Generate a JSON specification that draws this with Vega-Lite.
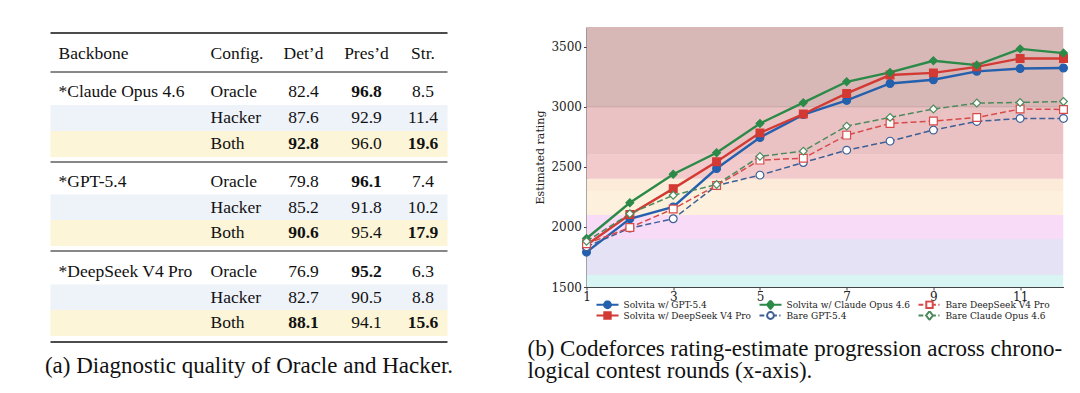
{
  "$schema": "https://vega.github.io/schema/vega-lite/v6.json",
  "background": "white",
  "padding": {"left": 44.5, "top": 27, "right": 0, "bottom": 0},
  "bounds": "flush",
  "spacing": 139,
  "config": {"view": {"stroke": null}},
  "datasets": {
    "tableLabels": [
      {"line": 0, "col": 0, "text": "Backbone"},
      {"line": 0, "col": 1, "text": "Config."},
      {"line": 0, "col": 2, "text": "Det’d"},
      {"line": 0, "col": 3, "text": "Pres’d"},
      {"line": 0, "col": 4, "text": "Str."},
      {"line": 1, "col": 0, "text": "*Claude Opus 4.6"},
      {"line": 4, "col": 0, "text": "*GPT-5.4"},
      {"line": 7, "col": 0, "text": "*DeepSeek V4 Pro"},
      {"line": 1, "col": 1, "text": "Oracle"},
      {"line": 2, "col": 1, "text": "Hacker"},
      {"line": 3, "col": 1, "text": "Both"},
      {"line": 4, "col": 1, "text": "Oracle"},
      {"line": 5, "col": 1, "text": "Hacker"},
      {"line": 6, "col": 1, "text": "Both"},
      {"line": 7, "col": 1, "text": "Oracle"},
      {"line": 8, "col": 1, "text": "Hacker"},
      {"line": 9, "col": 1, "text": "Both"}
    ],
    "tableValues": [
      {"backbone": "Claude Opus 4.6", "config": "Oracle", "line": 1, "metric": "Det’d", "col": 2, "value": 82.4},
      {"backbone": "Claude Opus 4.6", "config": "Oracle", "line": 1, "metric": "Pres’d", "col": 3, "value": 96.8},
      {"backbone": "Claude Opus 4.6", "config": "Oracle", "line": 1, "metric": "Str.", "col": 4, "value": 8.5},
      {"backbone": "Claude Opus 4.6", "config": "Hacker", "line": 2, "metric": "Det’d", "col": 2, "value": 87.6},
      {"backbone": "Claude Opus 4.6", "config": "Hacker", "line": 2, "metric": "Pres’d", "col": 3, "value": 92.9},
      {"backbone": "Claude Opus 4.6", "config": "Hacker", "line": 2, "metric": "Str.", "col": 4, "value": 11.4},
      {"backbone": "Claude Opus 4.6", "config": "Both", "line": 3, "metric": "Det’d", "col": 2, "value": 92.8},
      {"backbone": "Claude Opus 4.6", "config": "Both", "line": 3, "metric": "Pres’d", "col": 3, "value": 96.0},
      {"backbone": "Claude Opus 4.6", "config": "Both", "line": 3, "metric": "Str.", "col": 4, "value": 19.6},
      {"backbone": "GPT-5.4", "config": "Oracle", "line": 4, "metric": "Det’d", "col": 2, "value": 79.8},
      {"backbone": "GPT-5.4", "config": "Oracle", "line": 4, "metric": "Pres’d", "col": 3, "value": 96.1},
      {"backbone": "GPT-5.4", "config": "Oracle", "line": 4, "metric": "Str.", "col": 4, "value": 7.4},
      {"backbone": "GPT-5.4", "config": "Hacker", "line": 5, "metric": "Det’d", "col": 2, "value": 85.2},
      {"backbone": "GPT-5.4", "config": "Hacker", "line": 5, "metric": "Pres’d", "col": 3, "value": 91.8},
      {"backbone": "GPT-5.4", "config": "Hacker", "line": 5, "metric": "Str.", "col": 4, "value": 10.2},
      {"backbone": "GPT-5.4", "config": "Both", "line": 6, "metric": "Det’d", "col": 2, "value": 90.6},
      {"backbone": "GPT-5.4", "config": "Both", "line": 6, "metric": "Pres’d", "col": 3, "value": 95.4},
      {"backbone": "GPT-5.4", "config": "Both", "line": 6, "metric": "Str.", "col": 4, "value": 17.9},
      {"backbone": "DeepSeek V4 Pro", "config": "Oracle", "line": 7, "metric": "Det’d", "col": 2, "value": 76.9},
      {"backbone": "DeepSeek V4 Pro", "config": "Oracle", "line": 7, "metric": "Pres’d", "col": 3, "value": 95.2},
      {"backbone": "DeepSeek V4 Pro", "config": "Oracle", "line": 7, "metric": "Str.", "col": 4, "value": 6.3},
      {"backbone": "DeepSeek V4 Pro", "config": "Hacker", "line": 8, "metric": "Det’d", "col": 2, "value": 82.7},
      {"backbone": "DeepSeek V4 Pro", "config": "Hacker", "line": 8, "metric": "Pres’d", "col": 3, "value": 90.5},
      {"backbone": "DeepSeek V4 Pro", "config": "Hacker", "line": 8, "metric": "Str.", "col": 4, "value": 8.8},
      {"backbone": "DeepSeek V4 Pro", "config": "Both", "line": 9, "metric": "Det’d", "col": 2, "value": 88.1},
      {"backbone": "DeepSeek V4 Pro", "config": "Both", "line": 9, "metric": "Pres’d", "col": 3, "value": 94.1},
      {"backbone": "DeepSeek V4 Pro", "config": "Both", "line": 9, "metric": "Str.", "col": 4, "value": 15.6}
    ],
    "tableBands": [
      {"line": 2, "kind": "Hacker"}, {"line": 3, "kind": "Both"},
      {"line": 5, "kind": "Hacker"}, {"line": 6, "kind": "Both"},
      {"line": 8, "kind": "Hacker"}, {"line": 9, "kind": "Both"}
    ],
    "tableRules": [
      {"line": 0, "kind": "top"},
      {"line": 0, "kind": "mid"},
      {"line": 3, "kind": "mid"},
      {"line": 6, "kind": "mid"},
      {"line": 9, "kind": "bottom"}
    ],
    "tiers": [
      {"tier": "Specialist", "lo": 1500, "hi": 1600},
      {"tier": "Expert", "lo": 1600, "hi": 1900},
      {"tier": "Candidate Master", "lo": 1900, "hi": 2100},
      {"tier": "Master", "lo": 2100, "hi": 2300},
      {"tier": "International Master", "lo": 2300, "hi": 2400},
      {"tier": "Grandmaster", "lo": 2400, "hi": 2600},
      {"tier": "International Grandmaster", "lo": 2600, "hi": 3000},
      {"tier": "Legendary Grandmaster", "lo": 3000, "hi": 4000}
    ],
    "ratings": [
      {"series": "Solvita w/ GPT-5.4", "model": "GPT-5.4", "kind": "Solvita", "round": 1, "rating": 1790},
      {"series": "Solvita w/ GPT-5.4", "model": "GPT-5.4", "kind": "Solvita", "round": 2, "rating": 2068},
      {"series": "Solvita w/ GPT-5.4", "model": "GPT-5.4", "kind": "Solvita", "round": 3, "rating": 2167},
      {"series": "Solvita w/ GPT-5.4", "model": "GPT-5.4", "kind": "Solvita", "round": 4, "rating": 2486},
      {"series": "Solvita w/ GPT-5.4", "model": "GPT-5.4", "kind": "Solvita", "round": 5, "rating": 2744},
      {"series": "Solvita w/ GPT-5.4", "model": "GPT-5.4", "kind": "Solvita", "round": 6, "rating": 2935},
      {"series": "Solvita w/ GPT-5.4", "model": "GPT-5.4", "kind": "Solvita", "round": 7, "rating": 3053},
      {"series": "Solvita w/ GPT-5.4", "model": "GPT-5.4", "kind": "Solvita", "round": 8, "rating": 3194},
      {"series": "Solvita w/ GPT-5.4", "model": "GPT-5.4", "kind": "Solvita", "round": 9, "rating": 3225},
      {"series": "Solvita w/ GPT-5.4", "model": "GPT-5.4", "kind": "Solvita", "round": 10, "rating": 3295},
      {"series": "Solvita w/ GPT-5.4", "model": "GPT-5.4", "kind": "Solvita", "round": 11, "rating": 3318},
      {"series": "Solvita w/ GPT-5.4", "model": "GPT-5.4", "kind": "Solvita", "round": 12, "rating": 3323},
      {"series": "Solvita w/ DeepSeek V4 Pro", "model": "DeepSeek V4 Pro", "kind": "Solvita", "round": 1, "rating": 1850},
      {"series": "Solvita w/ DeepSeek V4 Pro", "model": "DeepSeek V4 Pro", "kind": "Solvita", "round": 2, "rating": 2103},
      {"series": "Solvita w/ DeepSeek V4 Pro", "model": "DeepSeek V4 Pro", "kind": "Solvita", "round": 3, "rating": 2319},
      {"series": "Solvita w/ DeepSeek V4 Pro", "model": "DeepSeek V4 Pro", "kind": "Solvita", "round": 4, "rating": 2542},
      {"series": "Solvita w/ DeepSeek V4 Pro", "model": "DeepSeek V4 Pro", "kind": "Solvita", "round": 5, "rating": 2783},
      {"series": "Solvita w/ DeepSeek V4 Pro", "model": "DeepSeek V4 Pro", "kind": "Solvita", "round": 6, "rating": 2940},
      {"series": "Solvita w/ DeepSeek V4 Pro", "model": "DeepSeek V4 Pro", "kind": "Solvita", "round": 7, "rating": 3111},
      {"series": "Solvita w/ DeepSeek V4 Pro", "model": "DeepSeek V4 Pro", "kind": "Solvita", "round": 8, "rating": 3264},
      {"series": "Solvita w/ DeepSeek V4 Pro", "model": "DeepSeek V4 Pro", "kind": "Solvita", "round": 9, "rating": 3282},
      {"series": "Solvita w/ DeepSeek V4 Pro", "model": "DeepSeek V4 Pro", "kind": "Solvita", "round": 10, "rating": 3332},
      {"series": "Solvita w/ DeepSeek V4 Pro", "model": "DeepSeek V4 Pro", "kind": "Solvita", "round": 11, "rating": 3402},
      {"series": "Solvita w/ DeepSeek V4 Pro", "model": "DeepSeek V4 Pro", "kind": "Solvita", "round": 12, "rating": 3402},
      {"series": "Solvita w/ Claude Opus 4.6", "model": "Claude Opus 4.6", "kind": "Solvita", "round": 1, "rating": 1904},
      {"series": "Solvita w/ Claude Opus 4.6", "model": "Claude Opus 4.6", "kind": "Solvita", "round": 2, "rating": 2201},
      {"series": "Solvita w/ Claude Opus 4.6", "model": "Claude Opus 4.6", "kind": "Solvita", "round": 3, "rating": 2439},
      {"series": "Solvita w/ Claude Opus 4.6", "model": "Claude Opus 4.6", "kind": "Solvita", "round": 4, "rating": 2617},
      {"series": "Solvita w/ Claude Opus 4.6", "model": "Claude Opus 4.6", "kind": "Solvita", "round": 5, "rating": 2861},
      {"series": "Solvita w/ Claude Opus 4.6", "model": "Claude Opus 4.6", "kind": "Solvita", "round": 6, "rating": 3034},
      {"series": "Solvita w/ Claude Opus 4.6", "model": "Claude Opus 4.6", "kind": "Solvita", "round": 7, "rating": 3208},
      {"series": "Solvita w/ Claude Opus 4.6", "model": "Claude Opus 4.6", "kind": "Solvita", "round": 8, "rating": 3286},
      {"series": "Solvita w/ Claude Opus 4.6", "model": "Claude Opus 4.6", "kind": "Solvita", "round": 9, "rating": 3383},
      {"series": "Solvita w/ Claude Opus 4.6", "model": "Claude Opus 4.6", "kind": "Solvita", "round": 10, "rating": 3347},
      {"series": "Solvita w/ Claude Opus 4.6", "model": "Claude Opus 4.6", "kind": "Solvita", "round": 11, "rating": 3482},
      {"series": "Solvita w/ Claude Opus 4.6", "model": "Claude Opus 4.6", "kind": "Solvita", "round": 12, "rating": 3447},
      {"series": "Bare GPT-5.4", "model": "GPT-5.4", "kind": "Bare", "round": 1, "rating": 1835},
      {"series": "Bare GPT-5.4", "model": "GPT-5.4", "kind": "Bare", "round": 2, "rating": 1990},
      {"series": "Bare GPT-5.4", "model": "GPT-5.4", "kind": "Bare", "round": 3, "rating": 2068},
      {"series": "Bare GPT-5.4", "model": "GPT-5.4", "kind": "Bare", "round": 4, "rating": 2345},
      {"series": "Bare GPT-5.4", "model": "GPT-5.4", "kind": "Bare", "round": 5, "rating": 2431},
      {"series": "Bare GPT-5.4", "model": "GPT-5.4", "kind": "Bare", "round": 6, "rating": 2536},
      {"series": "Bare GPT-5.4", "model": "GPT-5.4", "kind": "Bare", "round": 7, "rating": 2639},
      {"series": "Bare GPT-5.4", "model": "GPT-5.4", "kind": "Bare", "round": 8, "rating": 2714},
      {"series": "Bare GPT-5.4", "model": "GPT-5.4", "kind": "Bare", "round": 9, "rating": 2806},
      {"series": "Bare GPT-5.4", "model": "GPT-5.4", "kind": "Bare", "round": 10, "rating": 2878},
      {"series": "Bare GPT-5.4", "model": "GPT-5.4", "kind": "Bare", "round": 11, "rating": 2903},
      {"series": "Bare GPT-5.4", "model": "GPT-5.4", "kind": "Bare", "round": 12, "rating": 2903},
      {"series": "Bare DeepSeek V4 Pro", "model": "DeepSeek V4 Pro", "kind": "Bare", "round": 1, "rating": 1860},
      {"series": "Bare DeepSeek V4 Pro", "model": "DeepSeek V4 Pro", "kind": "Bare", "round": 2, "rating": 1995},
      {"series": "Bare DeepSeek V4 Pro", "model": "DeepSeek V4 Pro", "kind": "Bare", "round": 3, "rating": 2150},
      {"series": "Bare DeepSeek V4 Pro", "model": "DeepSeek V4 Pro", "kind": "Bare", "round": 4, "rating": 2345},
      {"series": "Bare DeepSeek V4 Pro", "model": "DeepSeek V4 Pro", "kind": "Bare", "round": 5, "rating": 2556},
      {"series": "Bare DeepSeek V4 Pro", "model": "DeepSeek V4 Pro", "kind": "Bare", "round": 6, "rating": 2572},
      {"series": "Bare DeepSeek V4 Pro", "model": "DeepSeek V4 Pro", "kind": "Bare", "round": 7, "rating": 2764},
      {"series": "Bare DeepSeek V4 Pro", "model": "DeepSeek V4 Pro", "kind": "Bare", "round": 8, "rating": 2861},
      {"series": "Bare DeepSeek V4 Pro", "model": "DeepSeek V4 Pro", "kind": "Bare", "round": 9, "rating": 2881},
      {"series": "Bare DeepSeek V4 Pro", "model": "DeepSeek V4 Pro", "kind": "Bare", "round": 10, "rating": 2911},
      {"series": "Bare DeepSeek V4 Pro", "model": "DeepSeek V4 Pro", "kind": "Bare", "round": 11, "rating": 2981},
      {"series": "Bare DeepSeek V4 Pro", "model": "DeepSeek V4 Pro", "kind": "Bare", "round": 12, "rating": 2978},
      {"series": "Bare Claude Opus 4.6", "model": "Claude Opus 4.6", "kind": "Bare", "round": 1, "rating": 1880},
      {"series": "Bare Claude Opus 4.6", "model": "Claude Opus 4.6", "kind": "Bare", "round": 2, "rating": 2110},
      {"series": "Bare Claude Opus 4.6", "model": "Claude Opus 4.6", "kind": "Bare", "round": 3, "rating": 2264},
      {"series": "Bare Claude Opus 4.6", "model": "Claude Opus 4.6", "kind": "Bare", "round": 4, "rating": 2353},
      {"series": "Bare Claude Opus 4.6", "model": "Claude Opus 4.6", "kind": "Bare", "round": 5, "rating": 2587},
      {"series": "Bare Claude Opus 4.6", "model": "Claude Opus 4.6", "kind": "Bare", "round": 6, "rating": 2631},
      {"series": "Bare Claude Opus 4.6", "model": "Claude Opus 4.6", "kind": "Bare", "round": 7, "rating": 2839},
      {"series": "Bare Claude Opus 4.6", "model": "Claude Opus 4.6", "kind": "Bare", "round": 8, "rating": 2912},
      {"series": "Bare Claude Opus 4.6", "model": "Claude Opus 4.6", "kind": "Bare", "round": 9, "rating": 2981},
      {"series": "Bare Claude Opus 4.6", "model": "Claude Opus 4.6", "kind": "Bare", "round": 10, "rating": 3031},
      {"series": "Bare Claude Opus 4.6", "model": "Claude Opus 4.6", "kind": "Bare", "round": 11, "rating": 3036},
      {"series": "Bare Claude Opus 4.6", "model": "Claude Opus 4.6", "kind": "Bare", "round": 12, "rating": 3044}
    ]
  },
  "hconcat": [
    {
      "width": 397,
      "height": 315,
      "title": {"text": "(a) Diagnostic quality of Oracle and Hacker.", "orient": "bottom", "anchor": "middle", "frame": "group", "offset": 12, "font": "Liberation Serif", "fontSize": 23, "fontWeight": "normal", "color": "#111111"},
      "layer": [
        {
          "data": {"name": "tableBands"},
          "mark": {"type": "rect", "height": 26},
          "encoding": {
            "y": {"field": "line", "type": "quantitative", "scale": {"domain": [0, 1, 3, 4, 6, 7, 9], "range": [27, 65, 117, 155, 206, 245, 296], "nice": false, "zero": false}, "axis": null},
            "fill": {"field": "kind", "type": "nominal", "scale": {"domain": ["Hacker", "Both"], "range": ["#eef2f9", "#fcf5d8"]}, "legend": null}
          }
        },
        {
          "data": {"name": "tableRules"},
          "transform": [{"filter": "datum.kind === 'top'"}],
          "mark": {"type": "rule", "yOffset": -21, "strokeWidth": 1.6, "color": "#111111"},
          "encoding": {"y": {"field": "line", "type": "quantitative"}}
        },
        {
          "data": {"name": "tableRules"},
          "transform": [{"filter": "datum.kind === 'mid'"}],
          "mark": {"type": "rule", "yOffset": 18, "strokeWidth": 1, "color": "#111111"},
          "encoding": {"y": {"field": "line", "type": "quantitative"}}
        },
        {
          "data": {"name": "tableRules"},
          "transform": [{"filter": "datum.kind === 'bottom'"}],
          "mark": {"type": "rule", "yOffset": 19, "strokeWidth": 1.6, "color": "#111111"},
          "encoding": {"y": {"field": "line", "type": "quantitative"}}
        },
        {
          "data": {"name": "tableLabels"},
          "transform": [{"filter": "datum.col <= 1"}],
          "mark": {"type": "text", "align": "left", "baseline": "middle", "font": "Liberation Serif", "fontSize": 17.5, "color": "#111111"},
          "encoding": {
            "x": {"field": "col", "type": "quantitative", "scale": {"domain": [0, 1, 2, 3, 4], "range": [8, 160, 253, 316, 372.5], "nice": false, "zero": false}, "axis": null},
            "y": {"field": "line", "type": "quantitative"},
            "text": {"field": "text"}
          }
        },
        {
          "data": {"name": "tableLabels"},
          "transform": [{"filter": "datum.col >= 2"}],
          "mark": {"type": "text", "align": "center", "baseline": "middle", "font": "Liberation Serif", "fontSize": 17.5, "color": "#111111"},
          "encoding": {
            "x": {"field": "col", "type": "quantitative"},
            "y": {"field": "line", "type": "quantitative"},
            "text": {"field": "text"}
          }
        },
        {
          "data": {"name": "tableValues"},
          "transform": [
            {"joinaggregate": [{"op": "max", "field": "value", "as": "best"}], "groupby": ["backbone", "metric"]},
            {"filter": "datum.value < datum.best"}
          ],
          "mark": {"type": "text", "align": "center", "baseline": "middle", "font": "Liberation Serif", "fontSize": 17.5, "color": "#111111"},
          "encoding": {
            "x": {"field": "col", "type": "quantitative"},
            "y": {"field": "line", "type": "quantitative"},
            "text": {"field": "value", "type": "quantitative", "format": ".1f"}
          }
        },
        {
          "data": {"name": "tableValues"},
          "transform": [
            {"joinaggregate": [{"op": "max", "field": "value", "as": "best"}], "groupby": ["backbone", "metric"]},
            {"filter": "datum.value === datum.best"}
          ],
          "mark": {"type": "text", "align": "center", "baseline": "middle", "font": "Liberation Serif", "fontSize": 17.5, "fontWeight": "bold", "color": "#111111"},
          "encoding": {
            "x": {"field": "col", "type": "quantitative"},
            "y": {"field": "line", "type": "quantitative"},
            "text": {"field": "value", "type": "quantitative", "format": ".1f"}
          }
        }
      ]
    },
    {
      "width": 477,
      "height": 260,
      "title": {"text": ["(b) Codeforces rating-estimate progression across chrono-", "logical contest rounds (x-axis)."], "orient": "bottom", "anchor": "start", "frame": "group", "dx": -59, "offset": 17, "font": "Liberation Serif", "fontSize": 23, "fontWeight": "normal", "lineHeight": 22, "color": "#111111"},
      "resolve": {"scale": {"shape": "independent", "fill": "independent", "stroke": "independent", "strokeWidth": "independent"}},
      "layer": [
        {
          "data": {"name": "tiers"},
          "mark": {"type": "rect", "clip": true},
          "encoding": {
            "y": {"field": "lo", "type": "quantitative", "scale": {"domain": [1500, 3664], "nice": false, "zero": false},
                  "axis": {"values": [1500, 2000, 2500, 3000, 3500], "format": "d", "title": "Estimated rating", "grid": false, "titleFont": "DejaVu Serif", "titleFontSize": 11, "titleFontWeight": "normal", "titleColor": "#222222", "titlePadding": 5, "labelFont": "DejaVu Serif", "labelFontSize": 12, "labelColor": "#222222", "tickColor": "#444444", "tickSize": 3, "domainColor": "#444444", "domainWidth": 1.2, "labelPadding": 2}},
            "y2": {"field": "hi"},
            "fill": {"field": "tier", "type": "nominal", "scale": {"domain": ["Specialist", "Expert", "Candidate Master", "Master", "International Master", "Grandmaster", "International Grandmaster", "Legendary Grandmaster"], "range": ["#d9f5f3", "#e6e2f6", "#f8dbf6", "#fdf1dd", "#fcebd9", "#f2cacc", "#ebc2c4", "#d8b8b7"]}, "legend": null}
          }
        },
        {
          "data": {"values": [{"threshold": 3000}]},
          "mark": {"type": "rule", "color": "#c39a9a", "strokeWidth": 0.8},
          "encoding": {"y": {"field": "threshold", "type": "quantitative"}}
        },
        {
          "data": {"name": "ratings"},
          "transform": [{"filter": "datum.kind === 'Solvita'"}],
          "mark": {"type": "line", "strokeWidth": 2.4},
          "encoding": {
            "x": {"field": "round", "type": "quantitative", "scale": {"domain": [1, 12], "nice": false, "zero": false},
                  "axis": {"values": [1, 3, 5, 7, 9, 11], "title": null, "grid": false, "labelFont": "DejaVu Serif", "labelFontSize": 12, "labelColor": "#222222", "tickColor": "#444444", "tickSize": 3, "domainColor": "#444444", "domainWidth": 1.2, "labelPadding": 1, "labelFlush": false}},
            "y": {"field": "rating", "type": "quantitative"},
            "stroke": {"field": "series", "type": "nominal", "scale": {"domain": ["Solvita w/ GPT-5.4", "Solvita w/ DeepSeek V4 Pro", "Solvita w/ Claude Opus 4.6", "Bare GPT-5.4", "Bare DeepSeek V4 Pro", "Bare Claude Opus 4.6"], "range": ["#2460ad", "#d23a33", "#2b8a48", "#3d5f96", "#d84a4a", "#4c8a5c"]}, "legend": null}
          }
        },
        {
          "data": {"name": "ratings"},
          "transform": [{"filter": "datum.kind === 'Bare'"}],
          "mark": {"type": "line", "strokeWidth": 1.5, "strokeDash": [6, 3]},
          "encoding": {
            "x": {"field": "round", "type": "quantitative"},
            "y": {"field": "rating", "type": "quantitative"},
            "stroke": {"field": "series", "type": "nominal", "scale": {"domain": ["Solvita w/ GPT-5.4", "Solvita w/ DeepSeek V4 Pro", "Solvita w/ Claude Opus 4.6", "Bare GPT-5.4", "Bare DeepSeek V4 Pro", "Bare Claude Opus 4.6"], "range": ["#2460ad", "#d23a33", "#2b8a48", "#3d5f96", "#d84a4a", "#4c8a5c"]}, "legend": null}
          }
        },
        {
          "data": {"name": "ratings"},
          "mark": {"type": "point", "filled": true, "size": 60, "opacity": 1, "strokeWidth": 1.2},
          "encoding": {
            "x": {"field": "round", "type": "quantitative"},
            "y": {"field": "rating", "type": "quantitative"},
            "shape": {"field": "model", "type": "nominal", "scale": {"domain": ["GPT-5.4", "DeepSeek V4 Pro", "Claude Opus 4.6"], "range": ["circle", "square", "diamond"]}, "legend": null},
            "fill": {"field": "series", "type": "nominal", "scale": {"domain": ["Solvita w/ GPT-5.4", "Solvita w/ DeepSeek V4 Pro", "Solvita w/ Claude Opus 4.6", "Bare GPT-5.4", "Bare DeepSeek V4 Pro", "Bare Claude Opus 4.6"], "range": ["#2460ad", "#d23a33", "#2b8a48", "#ffffff", "#ffffff", "#ffffff"]}, "legend": null},
            "stroke": {"field": "series", "type": "nominal", "scale": {"domain": ["Solvita w/ GPT-5.4", "Solvita w/ DeepSeek V4 Pro", "Solvita w/ Claude Opus 4.6", "Bare GPT-5.4", "Bare DeepSeek V4 Pro", "Bare Claude Opus 4.6"], "range": ["#2460ad", "#d23a33", "#2b8a48", "#3d5f96", "#d84a4a", "#4c8a5c"]}, "legend": null}
          }
        },
        {
          "data": {"name": "ratings"},
          "transform": [{"filter": "false"}],
          "mark": {"type": "point", "filled": true, "opacity": 1},
          "encoding": {
            "x": {"field": "round", "type": "quantitative"},
            "y": {"field": "rating", "type": "quantitative"},
            "shape": {"field": "series", "type": "nominal",
                      "scale": {"domain": ["Solvita w/ GPT-5.4", "Solvita w/ DeepSeek V4 Pro", "Solvita w/ Claude Opus 4.6", "Bare GPT-5.4", "Bare DeepSeek V4 Pro", "Bare Claude Opus 4.6"],
                                "range": [
                                  "M-1,0L0.9,0M2.6,0L4.5,0M2.6,0A0.85,0.85,0,1,1,0.9,0A0.85,0.85,0,1,1,2.6,0Z",
                                  "M-1,0L0.95,0M2.55,0L4.5,0M0.95,-0.8L2.55,-0.8L2.55,0.8L0.95,0.8Z",
                                  "M-1,0L0.9,0M2.6,0L4.5,0M1.75,-1.1L2.6,0L1.75,1.1L0.9,0Z",
                                  "M-1,0L0.2,0M2.6,0L3.35,0M3.95,0L4.25,0M2.6,0A0.85,0.85,0,1,1,0.9,0A0.85,0.85,0,1,1,2.6,0Z",
                                  "M-1,0L0.2,0M2.55,0L3.35,0M3.95,0L4.25,0M0.95,-0.8L2.55,-0.8L2.55,0.8L0.95,0.8Z",
                                  "M-1,0L0.2,0M2.6,0L3.35,0M3.95,0L4.25,0M1.75,-1.1L2.6,0L1.75,1.1L0.9,0Z"
                                ]},
                      "legend": {"orient": "none", "legendX": 9, "legendY": 273, "columns": 3, "gridAlign": "each", "columnPadding": 7, "rowPadding": 1, "clipHeight": 9, "title": null, "symbolSize": 64, "labelOffset": 18, "labelFont": "DejaVu Serif", "labelFontSize": 9, "labelColor": "#222222", "padding": 0, "labelLimit": 0}},
            "fill": {"field": "series", "type": "nominal",
                     "scale": {"domain": ["Solvita w/ GPT-5.4", "Solvita w/ DeepSeek V4 Pro", "Solvita w/ Claude Opus 4.6", "Bare GPT-5.4", "Bare DeepSeek V4 Pro", "Bare Claude Opus 4.6"], "range": ["#2460ad", "#d23a33", "#2b8a48", "#ffffff", "#ffffff", "#ffffff"]},
                     "legend": {"orient": "none", "legendX": 9, "legendY": 273, "columns": 3, "gridAlign": "each", "columnPadding": 7, "rowPadding": 1, "clipHeight": 9, "title": null, "symbolSize": 64, "labelOffset": 18, "labelFont": "DejaVu Serif", "labelFontSize": 9, "labelColor": "#222222", "padding": 0, "labelLimit": 0}},
            "stroke": {"field": "series", "type": "nominal",
                       "scale": {"domain": ["Solvita w/ GPT-5.4", "Solvita w/ DeepSeek V4 Pro", "Solvita w/ Claude Opus 4.6", "Bare GPT-5.4", "Bare DeepSeek V4 Pro", "Bare Claude Opus 4.6"], "range": ["#2460ad", "#d23a33", "#2b8a48", "#3d5f96", "#d84a4a", "#4c8a5c"]},
                       "legend": {"orient": "none", "legendX": 9, "legendY": 273, "columns": 3, "gridAlign": "each", "columnPadding": 7, "rowPadding": 1, "clipHeight": 9, "title": null, "symbolSize": 64, "labelOffset": 18, "labelFont": "DejaVu Serif", "labelFontSize": 9, "labelColor": "#222222", "padding": 0, "labelLimit": 0}},
            "strokeWidth": {"field": "series", "type": "ordinal",
                            "scale": {"domain": ["Solvita w/ GPT-5.4", "Solvita w/ DeepSeek V4 Pro", "Solvita w/ Claude Opus 4.6", "Bare GPT-5.4", "Bare DeepSeek V4 Pro", "Bare Claude Opus 4.6"], "range": [2, 2, 2, 1.2, 1.2, 1.2]},
                            "legend": {"orient": "none", "legendX": 9, "legendY": 273, "columns": 3, "gridAlign": "each", "columnPadding": 7, "rowPadding": 1, "clipHeight": 9, "title": null, "symbolSize": 64, "labelOffset": 18, "labelFont": "DejaVu Serif", "labelFontSize": 9, "labelColor": "#222222", "padding": 0, "labelLimit": 0}}
          }
        }
      ]
    }
  ]
}
